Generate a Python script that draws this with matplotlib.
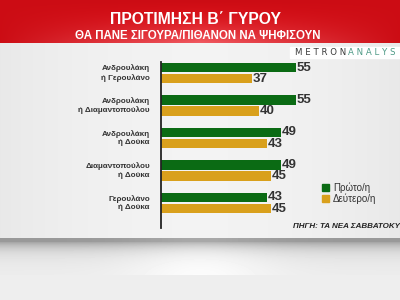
import matplotlib
matplotlib.use('Agg')
import matplotlib.pyplot as plt
import numpy as np
from matplotlib.patches import Rectangle

# data
pairs = ['Ανδρουλάκη\nή Γερουλάνο',
         'Ανδρουλάκη\nή Διαμαντοπούλου',
         'Ανδρουλάκη\nή Δούκα',
         'Διαμαντοπούλου\nή Δούκα',
         'Γερουλάνο\nή Δούκα']
first = [55, 55, 49, 49, 43]
second = [37, 40, 43, 45, 45]
series_names = ['Πρώτο/η', 'Δεύτερο/η']

GREEN = '#0b6b14'
ORANGE = '#d9a01c'
TXT = '#333333'
FONT = 'Liberation Sans'

W, H = 400, 300
fig = plt.figure(figsize=(4, 3), dpi=100)


def px(x, y, w, h):
    # pixel box (top-left origin) -> figure fraction
    return [x / W, 1 - (y + h) / H, w / W, h / H]


# background: panel, shadow, lower area
bg = fig.add_axes([0, 0, 1, 1])
rows = np.ones((H, 1))
rows[:] = 0.93
rows[43:238] = 0.91
yy = np.arange(238, 275)
rows[238:275, 0] = 0.93 - 0.35 * np.exp(-(yy - 240) / 8.0)
rows[238:242] = 0.6
img = np.repeat(rows, W, axis=1)
xx = np.linspace(-1, 1, W)
img[43:238] += 0.04 * (1 - xx ** 2)[None, :]
img[238:275] += 0.06 * np.exp(-(xx / 0.35) ** 2)[None, :]
bg.imshow(np.clip(img, 0, 1), cmap='gray', vmin=0, vmax=1,
          extent=[0, W, H, 0], aspect='auto')

# red header with soft gradient
red = np.zeros((43, W, 3))
vert = np.linspace(0, 1, 43)[:, None]
horiz = (1 - np.abs(xx))[None, :]
red[..., 0] = 0.80 + 0.14 * horiz * vert
red[..., 1] = 0.05 + 0.30 * horiz * vert ** 2
red[..., 2] = 0.08 + 0.30 * horiz * vert ** 2
bg.imshow(np.clip(red, 0, 1), extent=[0, W, 43, 0], aspect='auto')
bg.set_xlim(0, W)
bg.set_ylim(H, 0)
bg.axis('off')

bg.text(196, 20, 'ΠΡΟΤΙΜΗΣΗ Β΄ ΓΥΡΟΥ', color='white', fontsize=11.3,
        fontweight='bold', ha='center', va='center', family=FONT)
bg.text(198, 36, 'ΘΑ ΠΑΝΕ ΣΙΓΟΥΡΑ/ΠΙΘΑΝΟΝ ΝΑ ΨΗΦΙΣΟΥΝ', color='white',
        fontsize=8.3, fontweight='bold', ha='center', va='center',
        family=FONT)

# logo box
bg.add_patch(Rectangle((290, 47), 112, 11, color='white', zorder=3))
bg.text(295, 52.5, 'M E T R O N', color='#3a3a3a', fontsize=6.2,
        va='center', zorder=4, family='DejaVu Sans')
bg.text(348, 52.5, 'A N A L Y S', color='#4e9a86', fontsize=6.2,
        va='center', zorder=4, family='DejaVu Sans')

# source
bg.text(293, 226, 'ΠΗΓΗ: ΤΑ ΝΕΑ ΣΑΒΒΑΤΟΚΥΡΙΑΚΟ', color='#222222',
        fontsize=5.8, fontweight='bold', style='italic', va='center',
        family=FONT)

# legend
bg.add_patch(Rectangle((322, 184), 7, 7, color=GREEN))
bg.add_patch(Rectangle((322, 195), 7, 7, color=ORANGE))
bg.text(333, 187.5, series_names[0], color=TXT, fontsize=7, va='center',
        family=FONT)
bg.text(333, 198.5, series_names[1], color=TXT, fontsize=7, va='center',
        family=FONT)

# bar chart
ax = fig.add_axes(px(161, 62, 2.4545 * 60, 166))
ax.set_xlim(0, 60)
ax.set_ylim(4.77, -0.34)
ax.patch.set_alpha(0)
for s in ['top', 'right', 'bottom']:
    ax.spines[s].set_visible(False)
ax.spines['left'].set_color('#222222')
ax.spines['left'].set_linewidth(1.3)
ax.set_xticks([])
ax.set_yticks([])

pos = np.arange(len(pairs))
bh = 0.29
ax.barh(pos - 0.17, first, height=bh, color=GREEN)
ax.barh(pos + 0.17, second, height=bh, color=ORANGE)
for p, v in zip(pos, first):
    ax.text(v + 0.3, p - 0.17, str(v), color=TXT, fontsize=9.5,
            fontweight='bold', va='center', family=FONT)
for p, v in zip(pos, second):
    ax.text(v + 0.3, p + 0.17, str(v), color=TXT, fontsize=9.5,
            fontweight='bold', va='center', family=FONT)
for p, lab in zip(pos, pairs):
    ax.text(-4.5, p, lab, color=TXT, fontsize=5.8, fontweight='bold',
            ha='right', va='center', linespacing=1.25, family=FONT)

fig.savefig('out.png', dpi=100)
